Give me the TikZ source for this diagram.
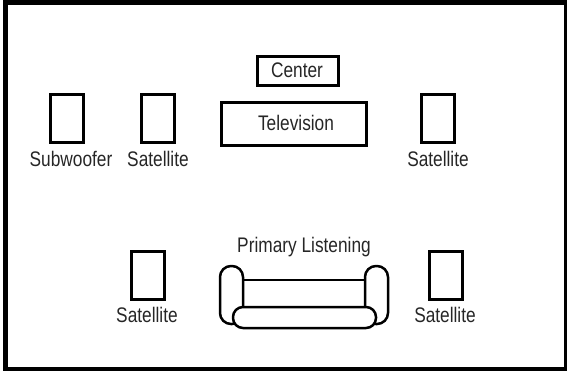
\documentclass[tikz,border=0pt]{standalone}
\usepackage{fontspec}
\setmainfont[FakeStretch=0.82]{Liberation Sans}
\begin{document}
\begin{tikzpicture}[x=0.02cm,y=-0.02cm,
  box/.style={draw,line width=0.06cm,rectangle,inner sep=0pt},
  speaker/.style={box,minimum width=0.66cm,minimum height=0.96cm},
  label/.style={inner sep=0pt,font=\fontsize{12pt}{14pt}\selectfont,text=black!85},
  part/.style={draw,line width=0.05cm,fill=white}]
		\useasboundingbox (0,0) rectangle (567,371);
		% Frame
		\node[box,line width=0.1cm,minimum width=11.22cm,minimum height=7.34cm] (frame) at (286,186) {};
		% Speakers
		\node[speaker] (sub) at (67,118.5) {};
		\node[speaker] (satfl) at (158,118.5) {};
		\node[speaker] (satfr) at (438,118.5) {};
		\node[speaker] (satrl) at (148,275.5) {};
		\node[speaker] (satrr) at (446,275.5) {};
		\node[label] (sublabel) at (71,159) {Subwoofer};
		\node[label] (satfllabel) at (158,159) {Satellite};
		\node[label] (satfrlabel) at (438,159) {Satellite};
		\node[label] (satrllabel) at (147,315) {Satellite};
		\node[label] (satrrlabel) at (445,315) {Satellite};
		% Front
		\node[box,minimum width=1.64cm,minimum height=0.6cm] (center) at (298,71) {};
		\node[label] at (297,70) {Center};
		\node[box,minimum width=2.92cm,minimum height=0.88cm] (tv) at (294,124) {};
		\node[label] at (296,123) {Television};
		% Couch
		\node[label] (primary) at (304,247) {Primary Listening};
		\draw[part] (243,280) rectangle (365,310);
		\draw[part,rounded corners=0.22cm] (243,266) -- (220,266) -- (220,324) -- (243,324) -- cycle;
		\draw[part,rounded corners=0.22cm] (365,266) -- (388,266) -- (388,324) -- (365,324) -- cycle;
		\draw[part,rounded corners=0.2cm] (233,307) rectangle (376,328);
\end{tikzpicture}
\end{document}
